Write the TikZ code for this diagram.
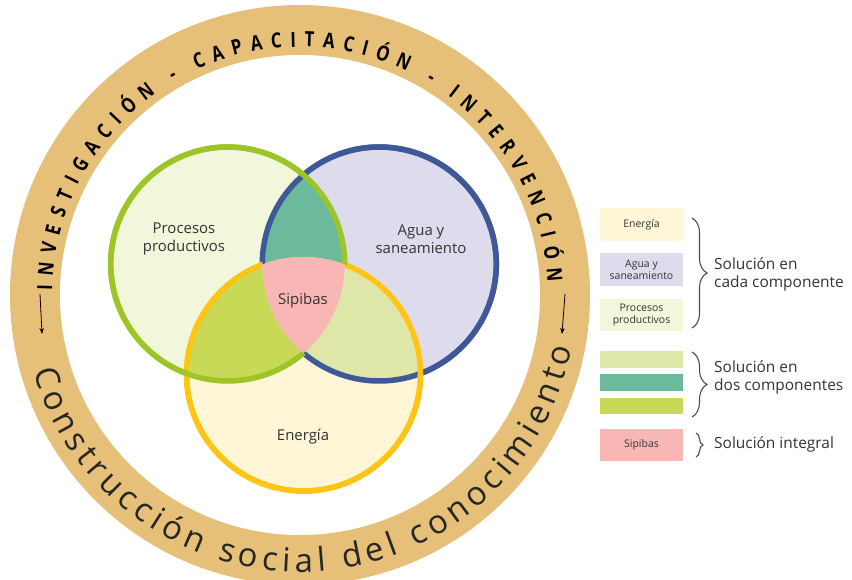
\documentclass[tikz,border=0pt]{standalone}
\usepackage{fontspec}
\setmainfont{Open Sans}
\newfontfamily\ringfont[FakeStretch=0.8]{Open Sans}
\usetikzlibrary{decorations.text,decorations.pathreplacing,arrows.meta}
\definecolor{ringc}{HTML}{E6C078}
\definecolor{gst}{HTML}{9EC528}
\definecolor{gfill}{HTML}{F2F6DA}
\definecolor{bst}{HTML}{3E5898}
\definecolor{bfill}{HTML}{DEDCEC}
\definecolor{yst}{HTML}{FFC414}
\definecolor{yfill}{HTML}{FEF6D6}
\definecolor{tealc}{HTML}{6CBA9C}
\definecolor{gyc}{HTML}{C7D956}
\definecolor{byc}{HTML}{DEE6A8}
\definecolor{pinkc}{HTML}{F8B6B4}
\definecolor{txt}{HTML}{333333}
\definecolor{brc}{HTML}{4D4D4D}
\begin{document}
\begin{tikzpicture}[x=1bp,y=-1bp,
  vlabel/.style={font=\fontsize{15}{18}\selectfont, text=txt, align=center, inner sep=0},
  lbox/.style={minimum width=83bp, inner sep=0, align=center, font=\fontsize{10.5}{12}\selectfont, text=txt},
  ltext/.style={anchor=west, align=left, font=\fontsize{15.5}{18.5}\selectfont, text=txt, inner sep=0},
  bracestyle/.style={decorate, decoration={brace, amplitude=#1}, line width=1.1bp, draw=brc},
  ringarrow/.style={-{Stealth[length=6bp,width=4.5bp]}, line width=0.8bp, draw=black},
  vstroke/.style={line width=5.5bp},
  outside/.style={insert path={(0,0) -- (852,0) -- (852,580) -- (0,580) -- cycle (#1) ++(117,0) arc[start angle=0,end angle=-360,radius=117] -- cycle}}
]
\useasboundingbox (0,0) rectangle (852,580);
\fill[white] (0,0) rectangle (852,580);
% ring
\coordinate (O) at (300,295);
\fill[ringc] (O) circle[radius=290];
\fill[white] (O) circle[radius=240];
% venn centres
\coordinate (A) at (227.7,264);
\coordinate (B) at (379.3,264);
\coordinate (C) at (303.5,374);
% fills
\fill[gfill] (A) circle[radius=117];
\fill[bfill] (B) circle[radius=117];
\fill[yfill] (C) circle[radius=117];
\begin{scope}
  \clip (A) circle[radius=117];
  \fill[tealc] (B) circle[radius=117];
  \fill[gyc] (C) circle[radius=117];
\end{scope}
\begin{scope}
  \clip (B) circle[radius=117];
  \fill[byc] (C) circle[radius=117];
\end{scope}
% strokes, hidden inside the triple intersection
\begin{scope}\clip[outside=C]; \draw[vstroke,bst] (B) circle[radius=117]; \end{scope}
\begin{scope}\clip[outside=A]; \draw[vstroke,bst] (B) circle[radius=117]; \end{scope}
\begin{scope}\clip[outside=A]; \draw[vstroke,yst] (C) circle[radius=117]; \end{scope}
\begin{scope}\clip[outside=B]; \draw[vstroke,yst] (C) circle[radius=117]; \end{scope}
\begin{scope}\clip[outside=B]; \draw[vstroke,gst] (A) circle[radius=117]; \end{scope}
\begin{scope}\clip[outside=C]; \draw[vstroke,gst] (A) circle[radius=117]; \end{scope}
\begin{scope}
  \clip (A) circle[radius=117];
  \clip (B) circle[radius=117];
  \fill[pinkc] (C) circle[radius=117];
\end{scope}
% venn labels
\node[vlabel] (pp) at (184,239) {Procesos\\productivos};
\node[vlabel] (as) at (421,239) {Agua y\\saneamiento};
\node[vlabel] (sip) at (303,301) {Sipibas};
\node[vlabel] (en) at (303,437) {Energía};
% ring texts
\path[shift={(300,295)}, decorate, decoration={text along path, text align=fit to path,
  text={|\ringfont\bfseries\fontsize{21}{21}\selectfont\color{black}|INVESTIGACIÓN - CAPACITACIÓN - INTERVENCIÓN}}]
  (181:248) arc[start angle=181, end angle=357, radius=248];
\path[shift={(300,295)}, decorate, decoration={text along path, text align=fit to path,
  text={|\fontsize{33}{33}\selectfont\color{black!85}|Construcción social del conocimiento}}]
  (164:277) arc[start angle=164, end angle=11, radius=277];
% ring arrows
\coordinate (al1) at (40,294);
\coordinate (al2) at (42,334);
\coordinate (ar1) at (565,294);
\coordinate (ar2) at (562,334);
\draw[ringarrow] (al1) -- (al2);
\draw[ringarrow] (ar1) -- (ar2);
% legend boxes
\node[lbox, fill=yfill, minimum height=33bp] (l1) at (641.5,224.5) {Energía};
\node[lbox, fill=bfill, minimum height=33bp] (l2) at (641.5,269.5) {Agua y\\saneamiento};
\node[lbox, fill=gfill, minimum height=32bp] (l3) at (641.5,315) {Procesos\\productivos};
\node[lbox, fill=byc, minimum height=17bp] (l4) at (641.5,359.5) {};
\node[lbox, fill=tealc, minimum height=17bp] (l5) at (641.5,382.5) {};
\node[lbox, fill=gyc, minimum height=16bp] (l6) at (641.5,406) {};
\node[lbox, fill=pinkc, minimum height=32bp] (l7) at (641.5,445) {Sipibas};
% braces
\coordinate (b1t) at (692,218);
\coordinate (b1b) at (692,328);
\coordinate (b2t) at (692,352);
\coordinate (b2b) at (692,417);
\coordinate (b3t) at (696,433);
\coordinate (b3b) at (696,457);
\draw[bracestyle=15bp] (b1t) -- (b1b);
\draw[bracestyle=15bp] (b2t) -- (b2b);
\draw[bracestyle=7bp] (b3t) -- (b3b);
% legend texts
\node[ltext] (t1) at (714,274.5) {Solución en\\cada componente};
\node[ltext] (t2) at (714,377.5) {Solución en\\dos componentes};
\node[ltext] (t3) at (714,444) {Solución integral};
\end{tikzpicture}
\end{document}
